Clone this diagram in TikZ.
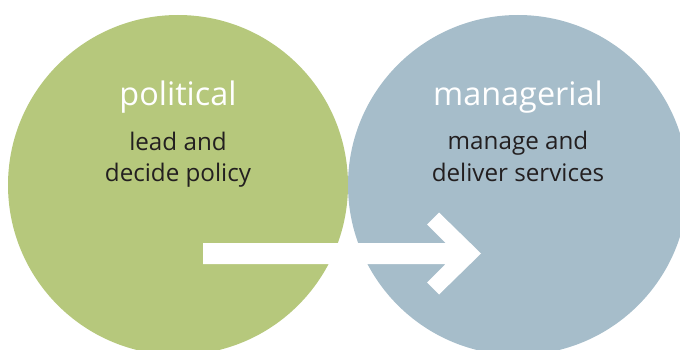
\documentclass[tikz,border=0pt]{standalone}
\usepackage{fontspec}
\setmainfont{Open Sans}
\usepackage{tikz}
\definecolor{polgreen}{RGB}{182,200,124}
\definecolor{mangrey}{RGB}{166,189,202}
\definecolor{textdark}{RGB}{35,31,32}

\begin{document}
\begin{tikzpicture}[x=1pt, y=-1pt,
		heading/.style={white, font=\fontsize{32.4}{32}\selectfont, anchor=base, inner sep=0pt},
		role/.style={textdark, font=\fontsize{24.2}{32}\selectfont, anchor=base, align=center, inner sep=0pt}]
		\clip (0,0) rectangle (680,350);
		% the two circles
		\fill[polgreen] (178,185) circle (170pt);
		\fill[mangrey] (518,185) circle (170pt);
		% the arrow
		\fill[white] (203,243) -- (445.5,243) -- (427,224.5) -- (439,212.5) -- (481,253.5)
			-- (439,294.5) -- (427,282.5) -- (445.5,264) -- (203,264) -- cycle;
		% texts
		\node[heading] (political) at (178,106) {political};
		\node[role] (lead) at (178,182) {lead and\\decide policy};
		\node[heading] (managerial) at (518,106) {managerial};
		\node[role] (manage) at (518,181) {manage and\\deliver services};
\end{tikzpicture}
\end{document}
